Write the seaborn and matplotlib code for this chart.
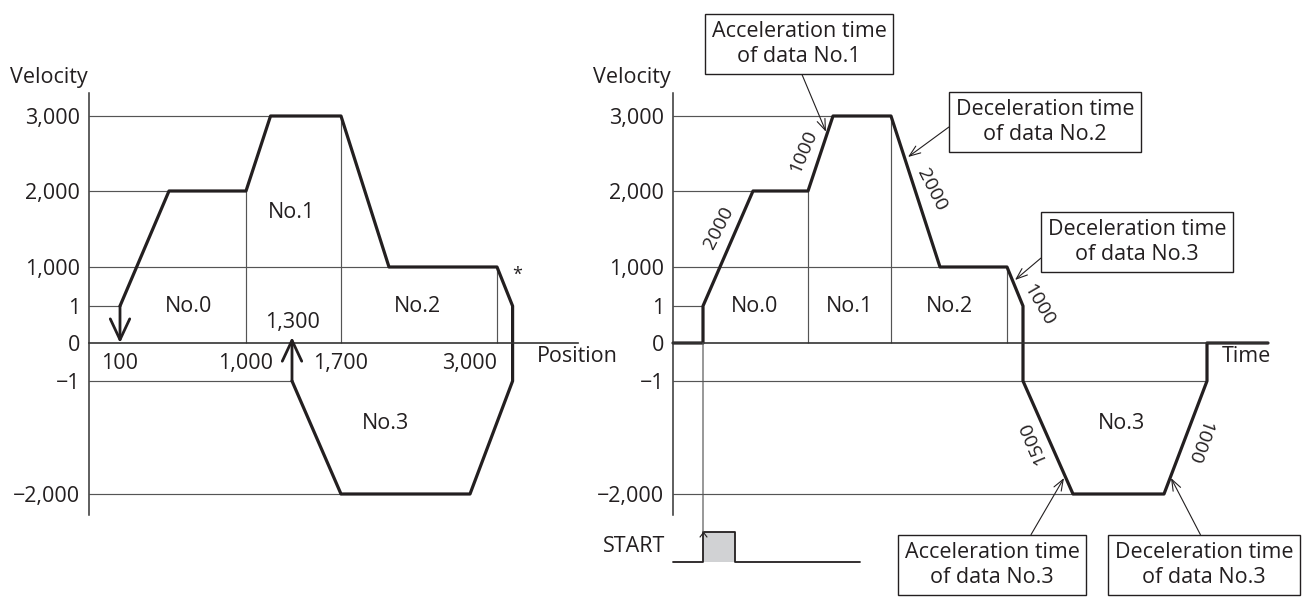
import numpy as np
import matplotlib
matplotlib.use("Agg")
import matplotlib.pyplot as plt
import seaborn as sns
from matplotlib.patches import ConnectionPatch

# ---------------- data ----------------
levels = [3000, 2000, 1000, 1, 0, -1, -2000]
level_labels = ["3,000", "2,000", "1,000", "1", "0", "\u22121", "\u22122,000"]

# left panel: velocity vs position
left_pos = [100, 450, 1000, 1160, 1700, 2100, 3000, 3130, 3130, 2775, 1700, 1300]
left_vel = [1, 2000, 2000, 3000, 3000, 1000, 1000, 1, -1, -2000, -2000, -1]
left_ticks = [100, 1000, 1700, 3000]
left_tick_labels = ["100", "1,000", "1,700", "3,000"]
left_bounds_pos = [1000, 1700, 3000]
left_bounds_top = [2000, 3000, 1000]
left_guide_lv = [3000, 2000, 1000, 1, -1, -2000]
left_guide_end = [1160, 450, 2100, 100, 1300, 1700]
seg_names = ["No.0", "No.1", "No.2", "No.3"]
left_seg_x = [590, 1300, 2340, 2075]
left_seg_v = [1, 1720, 1, -744]
left_arrow_pos = [100, 1300]
left_arrow_from = [1, -1]
left_arrow_to = [0, 0.16]

# right panel: velocity vs time
right_t = [0, 30, 30, 80, 135, 160, 218, 267, 334, 350, 350, 400, 491, 534, 534, 595]
right_v = [0, 0, 1, 2000, 2000, 3000, 3000, 1000, 1000, 1, -1, -2000, -2000, -1, 0, 0]
right_bounds_t = [135, 218, 334]
right_bounds_top = [2000, 3000, 1000]
right_guide_lv = [3000, 2000, 1000, 1, -1, -2000]
right_guide_end = [160, 80, 267, 30, 534, 400]
right_seg_t = [82, 176, 276, 448]
right_seg_v = [1, 1, 1, -744]
ramp_labels = ["2000", "1000", "2000", "1000", "1500", "1000"]
ramp_t = [46, 130, 259, 366, 360, 526]
ramp_v = [1513, 2530, 2010, 25, -1080, -1080]
ramp_rot = [63, 67, -63, -60, 113, -110]

callout_text = ["Acceleration time\nof data No.1", "Deceleration time\nof data No.2",
                "Deceleration time\nof data No.3", "Acceleration time\nof data No.3",
                "Deceleration time\nof data No.3"]
callout_t = [153, 235, 342, 391, 498]
callout_v = [2790, 2453, 667, -1717, -1717]

start_t = [0, 30, 30, 62, 62, 187]
start_s = [0, 0, 1, 1, 0, 0]

# ---------------- layout (pixels of a 1303x597 canvas) ----------------
W, H = 1303, 597
y_anchor_lv = [-2000, -1, 0, 1, 1000, 2000, 3000]
y_anchor_px = [103, 216, 254, 291, 330, 406, 481]
x_anchor_pos = [100, 1000, 1300, 1700, 3000]
x_anchor_px = [120, 246, 292, 341, 497]
box_centers = [(799, 44), (1045, 122), (1137, 242), (992, 565), (1204, 565)]
box_relpos = [(0.5, 0), (0, 0.5), (0, 0.28), (0.70, 1), (0.5, 1)]

ink = "#231f20"
thin = "#555555"
FS = 15.5


def piecewise(xs, ps):
    xs = np.asarray(xs, float)
    ps = np.asarray(ps, float)
    s0 = (ps[1] - ps[0]) / (xs[1] - xs[0])
    s1 = (ps[-1] - ps[-2]) / (xs[-1] - xs[-2])

    def fwd(v):
        v = np.asarray(v, float)
        out = np.interp(v, xs, ps)
        out = np.where(v < xs[0], ps[0] + (v - xs[0]) * s0, out)
        out = np.where(v > xs[-1], ps[-1] + (v - xs[-1]) * s1, out)
        return out

    def inv(p):
        p = np.asarray(p, float)
        out = np.interp(p, ps, xs)
        out = np.where(p < ps[0], xs[0] + (p - ps[0]) / s0, out)
        out = np.where(p > ps[-1], xs[-1] + (p - ps[-1]) / s1, out)
        return out

    return fwd, inv


fy, fyi = piecewise(y_anchor_lv, y_anchor_px)
fx, fxi = piecewise(x_anchor_pos, x_anchor_px)

sns.set_theme(style="white")
plt.rcParams["font.family"] = ["Open Sans", "DejaVu Sans"]
plt.rcParams["text.color"] = ink

fig = plt.figure(figsize=(W / 100, H / 100), dpi=100)
fig.patch.set_facecolor("white")

axL = fig.add_axes([0, 0, 645 / W, 1])
axR = fig.add_axes([660 / W, 0, 643 / W, 1])
for ax in (axL, axR):
    ax.set_facecolor("none")

# ---------- left panel ----------
sns.lineplot(x=left_pos, y=left_vel, sort=False, estimator=None, ax=axL,
             color=ink, lw=2.3)
axL.set_xscale("function", functions=(fx, fxi))
axL.set_yscale("function", functions=(fy, fyi))
axL.set_xlim(float(fxi(0)), float(fxi(645)))
axL.set_ylim(float(fyi(0)), float(fyi(H)))
xL_axis = float(fxi(89))
axL.hlines(left_guide_lv, xL_axis, left_guide_end, color=thin, lw=0.85, zorder=1)
axL.vlines(left_bounds_pos, 0, left_bounds_top, color=thin, lw=0.85, zorder=1)
for xp, a, b in zip(left_arrow_pos, left_arrow_from, left_arrow_to):
    axL.annotate("", xy=(xp, b), xytext=(xp, a),
                 arrowprops=dict(arrowstyle="->,head_length=1.5,head_width=0.7",
                                 lw=2.0, color=ink, shrinkA=0, shrinkB=0,
                                 mutation_scale=10))
for nm, x, v in zip(seg_names, left_seg_x, left_seg_v):
    axL.text(x, v, nm, ha="center", va="center", fontsize=FS)
axL.text(1300, 0.55, "1,300", ha="center", va="center", fontsize=FS)
axL.text(3165, 800, "*", ha="center", va="center", fontsize=13)

for side in ("top", "right"):
    axL.spines[side].set_visible(False)
axL.spines["left"].set_position(("data", xL_axis))
axL.spines["left"].set_bounds(float(fyi(82)), float(fyi(504)))
axL.spines["bottom"].set_position(("data", 0))
axL.spines["bottom"].set_bounds(xL_axis, float(fxi(578)))
axL.set_yticks(levels, level_labels)
axL.set_xticks(left_ticks, left_tick_labels)
axL.tick_params(axis="y", length=0, pad=6.5, labelsize=FS, labelcolor=ink)
axL.tick_params(axis="x", direction="out", length=4.3, width=0.85, color=thin,
                pad=3, labelsize=FS, labelcolor=ink)
axL.get_xticklabels()[-1].set_horizontalalignment("right")
axL.minorticks_off()

# ---------- right panel ----------
sns.lineplot(x=right_t, y=right_v, sort=False, estimator=None, ax=axR,
             color=ink, lw=2.3)
axR.set_yscale("function", functions=(fy, fyi))
axR.set_xlim(-13, 630)
axR.set_ylim(float(fyi(0)), float(fyi(H)))
axR.hlines(right_guide_lv, 0, right_guide_end, color=thin, lw=0.85, zorder=1)
axR.vlines(right_bounds_t, 0, right_bounds_top, color=thin, lw=0.85, zorder=1)
for nm, t, v in zip(seg_names, right_seg_t, right_seg_v):
    axR.text(t, v, nm, ha="center", va="center", fontsize=FS)
for lab, t, v, r in zip(ramp_labels, ramp_t, ramp_v, ramp_rot):
    axR.text(t, v, lab, ha="center", va="center", rotation=r,
             rotation_mode="anchor", fontsize=14)
for txt, t, v, c, rp in zip(callout_text, callout_t, callout_v, box_centers, box_relpos):
    axR.annotate(txt, xy=(t, v), xytext=(c[0], H - c[1]), textcoords="figure pixels",
                 ha="center", va="center", fontsize=FS, linespacing=1.3,
                 bbox=dict(boxstyle="square,pad=0.3", fc="white", ec=ink, lw=1.0),
                 arrowprops=dict(arrowstyle="->,head_length=0.8,head_width=0.3",
                                 lw=0.8, color=ink, shrinkA=0, shrinkB=0,
                                 relpos=rp, mutation_scale=10))
for side in ("top", "right"):
    axR.spines[side].set_visible(False)
axR.spines["left"].set_position(("data", 0))
axR.spines["left"].set_bounds(float(fyi(82)), float(fyi(504)))
axR.spines["bottom"].set_position(("data", 0))
axR.spines["bottom"].set_bounds(0, right_t[-1])
axR.set_yticks(levels, level_labels)
axR.set_xticks([])
axR.tick_params(axis="y", length=0, pad=6.5, labelsize=FS, labelcolor=ink)
axR.minorticks_off()

for ax in (axL, axR):
    ax.spines["left"].set_color("#333333")
    ax.spines["left"].set_linewidth(1.1)
    ax.spines["bottom"].set_color("#333333")
    ax.spines["bottom"].set_linewidth(1.2)

# ---------- START signal ----------
axS = fig.add_axes([660 / W, (H - 565) / H, 643 / W, 36 / H], sharex=axR)
axS.axis("off")
axS.set_ylim(-0.1, 1.1)
axS.fill_between(start_t, start_s, color="#d1d2d4", lw=0)
sns.lineplot(x=start_t, y=start_s, sort=False, estimator=None, ax=axS,
             color=ink, lw=1.3)
axS.set_xlim(-13, 630)
axS.plot([start_t[2]], [start_s[2]], marker=[(-1, -1.3), (0, 0), (1, -1.3)],
         ms=7, mfc="none", mec=ink, mew=0.8, clip_on=False)
con = ConnectionPatch(xyA=(right_t[1], 0), coordsA=axR.transData,
                      xyB=(start_t[2], start_s[2]), coordsB=axS.transData,
                      color=thin, lw=0.85)
fig.add_artist(con)

# ---------- free labels ----------
def ftext(x, y, s, **kw):
    fig.text(x / W, 1 - y / H, s, fontsize=FS, **kw)

ftext(10, 78, "Velocity", ha="left", va="center")
ftext(593, 78, "Velocity", ha="left", va="center")
ftext(537, 357, "Position", ha="left", va="center")
ftext(1222, 357, "Time", ha="left", va="center")
ftext(665, 547, "START", ha="right", va="center")

fig.savefig("out.png", dpi=100, facecolor="white")
